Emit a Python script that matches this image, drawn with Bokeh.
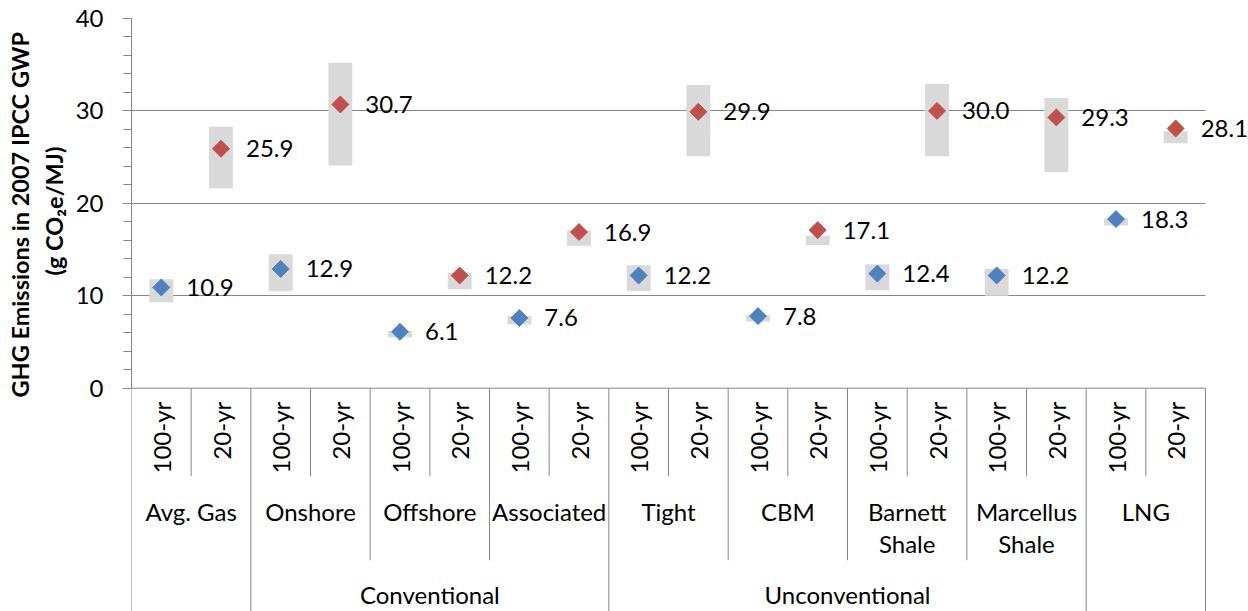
import math
from bokeh.plotting import figure
from bokeh.models import Range1d, FixedTicker, ColumnDataSource, LabelSet, Title
from bokeh.core.properties import value
from bokeh.embed import file_html
from bokeh.resources import INLINE

# ---------------- data ----------------
groups = ["Avg. Gas", "Onshore", "Offshore", "Associated", "Tight", "CBM",
          "Barnett\nShale", "Marcellus\nShale", "LNG"]
periods = ["100-yr", "20-yr"]
supergroups = ["", "Conventional", "Unconventional", ""]
supergroup_sizes = [1, 3, 4, 1]          # number of groups in each supergroup

gwp100 = [10.9, 12.9, 6.1, 7.6, 12.2, 7.8, 12.4, 12.2, 18.3]
gwp20 = [25.9, 30.7, 12.2, 16.9, 29.9, 17.1, 30.0, 29.3, 28.1]
low100 = [9.3, 10.5, 5.5, 6.9, 10.5, 7.2, 10.6, 10.0, 17.6]
high100 = [11.8, 14.5, 6.2, 7.8, 13.3, 7.9, 13.4, 12.9, 18.4]
low20 = [21.6, 24.1, 10.7, 15.4, 25.1, 15.5, 25.1, 23.4, 26.5]
high20 = [28.3, 35.2, 12.5, 17.1, 32.8, 16.5, 32.9, 31.4, 27.8]

y_ticks = [0, 10, 20, 30, 40]
y_title_lines = ["GHG Emissions in 2007 IPCC  GWP", "(g CO\u2082e/MJ)"]

# ---------------- styles / layout ----------------
FONT = "Lato"
FS = "24px"
GRAY = "#868686"
BLUE = "#4F81BD"
RED = "#C0504D"
BOX = "#D9D9D9"

W, H = 1248, 611
LEFT, TOP = 131, 18
PLOT_RIGHT = 1205          # right end of the category area
AXIS_PX = 369.7            # pixels from frame top to value 0
FRAME_H = H - TOP

n_groups = len(groups)
n_cat = n_groups * len(periods)
cat_px = (PLOT_RIGHT - LEFT) / n_cat
x_end = (W - LEFT) / cat_px

x100 = [2 * i + 0.5 for i in range(n_groups)]
x20 = [2 * i + 1.5 for i in range(n_groups)]

y_bottom = -40 * (FRAME_H - AXIS_PX) / AXIS_PX

p = figure(width=W, height=H,
           x_range=Range1d(0, x_end), y_range=Range1d(y_bottom, 40),
           output_backend="svg", toolbar_location=None, x_axis_type=None,
           min_border_left=LEFT, min_border_right=0, min_border_top=TOP,
           min_border_bottom=0)
p.extra_y_ranges = {"table": Range1d(start=FRAME_H - AXIS_PX, end=-AXIS_PX)}
p.outline_line_color = None
p.background_fill_color = "white"
p.border_fill_color = "white"

# y axis
ya = p.yaxis[0]
ya.bounds = (y_ticks[0], y_ticks[-1])
ya.ticker = FixedTicker(ticks=y_ticks, minor_ticks=[v for v in range(2, 40, 2)])
ya.axis_line_color = GRAY
ya.major_tick_line_color = GRAY
ya.minor_tick_line_color = GRAY
ya.major_tick_in = 0
ya.major_tick_out = 9
ya.minor_tick_in = 0
ya.minor_tick_out = 8
ya.major_label_text_font = FONT
ya.major_label_text_font_size = FS
ya.major_label_text_color = "black"
ya.major_label_standoff = 19

# y axis title: two centred lines, placed beside the value axis (0..40)
title_line2 = Title(text=y_title_lines[1], align="left", offset=336,
                    vertical_align="middle", standoff=8,
                    text_font=FONT, text_font_size="23.5px",
                    text_font_style="bold", text_color="black")
title_line1 = Title(text=y_title_lines[0], align="left", offset=214,
                    vertical_align="middle", standoff=0,
                    text_font=FONT, text_font_size="23.5px",
                    text_font_style="bold", text_color="black")
p.add_layout(title_line2, "left")
p.add_layout(title_line1, "left")

p.xgrid.visible = False
yg = p.ygrid[0]
yg.ticker = FixedTicker(ticks=[t for t in y_ticks if t > 0])
yg.grid_line_color = GRAY
if "cross_bounds" in yg.properties():
    yg.cross_bounds = (0, n_cat)
else:
    p.quad(left=[n_cat], right=[x_end], bottom=[0.2], top=[40.5],
           fill_color="white", line_color=None)

# baseline at 0 (category axis line)
p.segment(x0=[0], y0=[0], x1=[n_cat], y1=[0], line_color=GRAY, line_width=1)

# range boxes
p.vbar(x=x100, width=0.4, bottom=low100, top=high100, fill_color=BOX, line_color=None)
p.vbar(x=x20, width=0.4, bottom=low20, top=high20, fill_color=BOX, line_color=None)

# markers
p.scatter(x=x100, y=gwp100, marker="square", angle=math.pi / 4, size=12,
          fill_color=BLUE, line_color=BLUE)
p.scatter(x=x20, y=gwp20, marker="square", angle=math.pi / 4, size=12,
          fill_color=RED, line_color=RED)

# data labels
lab_src = ColumnDataSource(dict(
    x=x100 + x20, y=gwp100 + gwp20,
    t=[f"{v:.1f}" for v in gwp100 + gwp20]))
p.add_layout(LabelSet(x="x", y="y", text="t", source=lab_src, x_offset=25,
                      text_baseline="middle", text_align="left",
                      text_font=value(FONT), text_font_size=value(FS),
                      text_color="black"))

# ---------------- category table ----------------
T = "table"
SUB_END = 88
GROUP_END = 172
BOTTOM = FRAME_H - AXIS_PX

# separators between periods
sx = [2 * i + 1 for i in range(n_groups)]
p.segment(x0=sx, y0=[0] * len(sx), x1=sx, y1=[SUB_END] * len(sx),
          y_range_name=T, line_color=GRAY, line_width=1)

# group / supergroup separators (left edge, inner, right edge)
super_bounds = {0}
acc = 0
for s in supergroup_sizes:
    acc += s
    super_bounds.add(2 * acc)
gx, gy1 = [], []
for i in range(0, n_groups + 1):
    xb = 2 * i
    gx.append(xb)
    gy1.append(BOTTOM if xb in super_bounds else GROUP_END)
p.segment(x0=gx, y0=[0] * len(gx), x1=gx, y1=gy1,
          y_range_name=T, line_color=GRAY, line_width=1)

# period labels (rotated)
pxs = x100 + x20
pt = [periods[0]] * n_groups + [periods[1]] * n_groups
p.text(x=pxs, y=[13.5] * len(pxs), text=pt, y_range_name=T, angle=math.pi / 2,
       text_align="right", text_baseline="middle",
       text_font=value(FONT), text_font_size=value(FS), text_color="black")

# group labels
gcx = [2 * i + 1 for i in range(n_groups)]
line1 = [g.split("\n")[0] for g in groups]
line2 = [g.split("\n")[1] if "\n" in g else "" for g in groups]
p.text(x=gcx, y=[123] * n_groups, text=line1, y_range_name=T,
       text_align="center", text_baseline="middle",
       text_font=value(FONT), text_font_size=value(FS), text_color="black")
p.text(x=gcx, y=[155] * n_groups, text=line2, y_range_name=T,
       text_align="center", text_baseline="middle",
       text_font=value(FONT), text_font_size=value(FS), text_color="black")

# supergroup labels
scx = []
acc = 0
for s in supergroup_sizes:
    scx.append(acc * 2 + s)
    acc += s
p.text(x=scx, y=[206] * len(scx), text=supergroups, y_range_name=T,
       text_align="center", text_baseline="middle",
       text_font=value(FONT), text_font_size=value(FS), text_color="black")

open("out.html", "w").write(file_html(p, INLINE))
